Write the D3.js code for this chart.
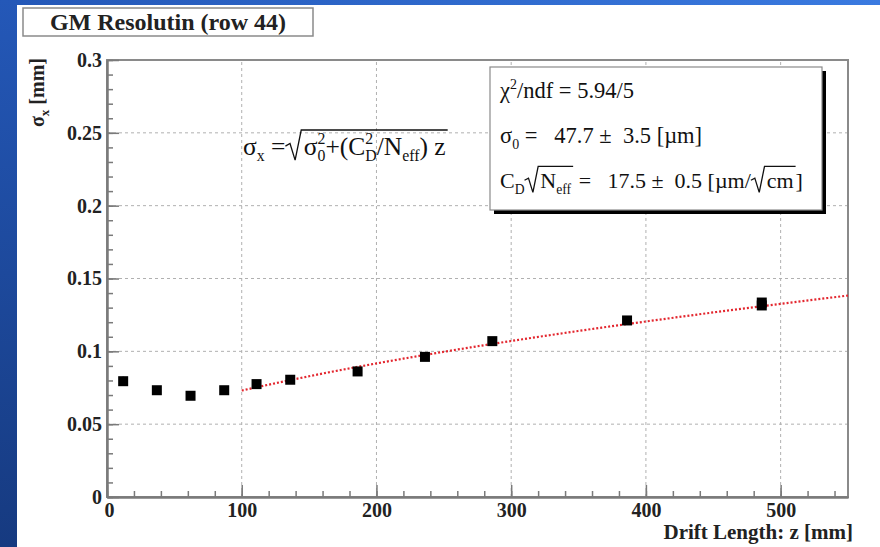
<html>
<head>
  <script src="https://d3js.org/d3.v7.min.js"></script>
  <style>
    body { margin: 0; }
    text { font-family: "Liberation Serif", "DejaVu Serif", serif; }
  </style>
</head>
<body>
  <svg id="chart" width="880" height="547"></svg>
  <script>
    // data
    const zPoints = [12, 37, 62, 87, 111, 136, 186, 236, 286, 386, 486, 486];
    const sigmaPoints = [0.0795, 0.0733, 0.0695, 0.0733, 0.0775, 0.0805, 0.0862, 0.0962, 0.1070, 0.1212, 0.1335, 0.1315];
    const sigmaErrors = [0.003, 0.0015, 0.0015, 0.0015, 0.0015, 0.0015, 0.0015, 0.0015, 0.0015, 0.0015, 0.002, 0.002];

    // fitted curve, read every 50 mm
    const fitZ = [100, 150, 200, 250, 300, 350, 400, 450, 500, 550];
    const fitSigma = [0.0731, 0.0829, 0.0917, 0.0997, 0.1071, 0.1140, 0.1205, 0.1267, 0.1326, 0.1383];

    const xTicks = [0, 100, 200, 300, 400, 500];
    const xTickLabels = ["0", "100", "200", "300", "400", "500"];
    const yTicks = [0, 0.05, 0.1, 0.15, 0.2, 0.25, 0.3];
    const yTickLabels = ["0", "0.05", "0.1", "0.15", "0.2", "0.25", "0.3"];

    const svg = d3.select("#chart");
    const W = 880, H = 547;

    // blue slide background
    const defs = svg.append("defs");
    const gl = defs.append("linearGradient").attr("id", "leftBand")
      .attr("x1", 0).attr("y1", 0).attr("x2", 0).attr("y2", 1);
    gl.append("stop").attr("offset", "0%").attr("stop-color", "#2458b8");
    gl.append("stop").attr("offset", "100%").attr("stop-color", "#163a80");
    const gt = defs.append("linearGradient").attr("id", "topBand")
      .attr("x1", 0).attr("y1", 0).attr("x2", 1).attr("y2", 0);
    gt.append("stop").attr("offset", "0%").attr("stop-color", "#2458b8");
    gt.append("stop").attr("offset", "100%").attr("stop-color", "#3a7ae0");

    svg.append("rect").attr("width", W).attr("height", H).attr("fill", "url(#leftBand)");
    svg.append("rect").attr("x", 17).attr("width", W - 17).attr("height", 5).attr("fill", "url(#topBand)");
    svg.append("rect").attr("x", 17).attr("y", 5).attr("width", W - 17).attr("height", H - 5).attr("fill", "#fff");

    const x = d3.scaleLinear().domain([0, 550]).range([107, 848]);
    const y = d3.scaleLinear().domain([0, 0.3]).range([497, 60]);

    // grid
    const grid = svg.append("g").attr("stroke", "#b0b0b0").attr("stroke-width", 1).attr("stroke-dasharray", "3,3");
    grid.selectAll("line.gx").data(xTicks.slice(1)).join("line")
      .attr("class", "gx")
      .attr("x1", d => x(d)).attr("x2", d => x(d))
      .attr("y1", y(0)).attr("y2", y(0.3));
    grid.selectAll("line.gy").data(yTicks.slice(1, -1)).join("line")
      .attr("class", "gy")
      .attr("x1", x(0)).attr("x2", x(550))
      .attr("y1", d => y(d)).attr("y2", d => y(d));

    // frame
    svg.append("rect")
      .attr("x", x(0)).attr("y", y(0.3))
      .attr("width", x(550) - x(0)).attr("height", y(0) - y(0.3))
      .attr("fill", "none").attr("stroke", "#8a8a8a").attr("stroke-width", 2);

    // axes
    const yAxis = svg.append("g").attr("transform", `translate(${x(0)},0)`)
      .call(d3.axisLeft(y).tickValues(yTicks).tickSize(-12).tickSizeOuter(0).tickPadding(5)
        .tickFormat((d, i) => yTickLabels[i]));
    const yMinor = svg.append("g").attr("transform", `translate(${x(0)},0)`)
      .call(d3.axisLeft(y).tickValues(d3.range(0, 0.3001, 0.01)).tickSize(-6).tickSizeOuter(0).tickFormat(""));
    const xAxis = svg.append("g").attr("transform", `translate(0,${y(0)})`)
      .call(d3.axisBottom(x).tickValues(xTicks).tickSize(-12).tickSizeOuter(0).tickPadding(6)
        .tickFormat((d, i) => xTickLabels[i]));
    const xMinor = svg.append("g").attr("transform", `translate(0,${y(0)})`)
      .call(d3.axisBottom(x).tickValues(d3.range(0, 551, 20)).tickSize(-6).tickSizeOuter(0).tickFormat(""));

    [yAxis, yMinor, xAxis, xMinor].forEach(a => {
      a.select(".domain").attr("stroke", "#7a7a7a").attr("stroke-width", 2);
      a.selectAll(".tick line").attr("stroke", "#7a7a7a").attr("stroke-width", 1.5);
      a.selectAll(".tick text")
        .attr("fill", "#222").attr("font-size", 20).attr("font-weight", "bold")
        .attr("font-family", "Liberation Serif, serif");
    });
    xAxis.selectAll(".tick text").filter(d => d === 0).attr("dx", 2);

    // axis titles
    const yTitle = svg.append("text")
      .attr("transform", `translate(44,${y(0.3) - 2}) rotate(-90)`)
      .attr("text-anchor", "end").attr("font-size", 20).attr("font-weight", "bold").attr("fill", "#222");
    yTitle.append("tspan").text("σ");
    yTitle.append("tspan").text("x").attr("font-size", 13).attr("dy", 5);
    yTitle.append("tspan").text(" [mm]").attr("dy", -5);

    svg.append("text")
      .attr("x", 853).attr("y", 539)
      .attr("text-anchor", "end").attr("font-size", 21).attr("font-weight", "bold").attr("fill", "#222")
      .text("Drift Length: z [mm]");

    // fit curve
    const line = d3.line().x(d => x(d[0])).y(d => y(d[1])).curve(d3.curveMonotoneX);
    svg.append("path")
      .datum(fitZ.map((z, i) => [z, fitSigma[i]]))
      .attr("d", line)
      .attr("fill", "none").attr("stroke", "#e3262e").attr("stroke-width", 2.2)
      .attr("stroke-dasharray", "2,2");

    // data points
    const pts = zPoints.map((z, i) => ({ z: z, s: sigmaPoints[i], e: sigmaErrors[i] }));
    svg.selectAll("line.err").data(pts).join("line")
      .attr("class", "err")
      .attr("x1", d => x(d.z)).attr("x2", d => x(d.z))
      .attr("y1", d => y(d.s - d.e)).attr("y2", d => y(d.s + d.e))
      .attr("stroke", "#000").attr("stroke-width", 1.5);
    svg.selectAll("rect.pt").data(pts).join("rect")
      .attr("class", "pt")
      .attr("x", d => x(d.z) - 5).attr("y", d => y(d.s) - 5)
      .attr("width", 10).attr("height", 10)
      .attr("fill", "#000");

    // rich text helper: pieces of plain, sup/sub and radicals
    function rich(g, x0, y0, size, pieces) {
      let cx = x0;
      let radStart = [];
      pieces.forEach(p => {
        if (p.t !== undefined) {
          const t = g.append("text").attr("x", cx).attr("y", y0).attr("font-size", size)
            .attr("fill", "#111").attr("xml:space", "preserve").style("white-space", "pre").text(p.t);
          cx += t.node().getComputedTextLength();
        } else if (p.rad === "open") {
          radStart.push(cx);
          cx += size * 0.72;
        } else if (p.rad === "close") {
          const s = radStart.pop();
          const top = y0 - size * 0.98;
          g.append("path")
            .attr("d", `M${s},${y0 - size * 0.35} L${s + size * 0.18},${y0 - size * 0.45} L${s + size * 0.38},${y0 + size * 0.2} L${s + size * 0.62},${top} L${cx + 2},${top}`)
            .attr("fill", "none").attr("stroke", "#111").attr("stroke-width", 1.3);
          cx += 2;
        } else {
          let w = 0;
          const small = size * 0.62;
          if (p.sup !== undefined) {
            const t = g.append("text").attr("x", cx).attr("y", y0 - size * 0.42).attr("font-size", small)
              .attr("fill", "#111").text(p.sup);
            w = Math.max(w, t.node().getComputedTextLength());
          }
          if (p.sub !== undefined) {
            const t = g.append("text").attr("x", cx).attr("y", y0 + size * 0.25).attr("font-size", small)
              .attr("fill", "#111").text(p.sub);
            w = Math.max(w, t.node().getComputedTextLength());
          }
          cx += w;
        }
      });
      return cx;
    }

    // formula
    const fg = svg.append("g");
    rich(fg, 243, 155, 25.5, [
      { t: "σ" }, { sub: "x" }, { t: " =" }, { rad: "open" },
      { t: "σ" }, { sup: "2", sub: "0" }, { t: "+(C" }, { sup: "2", sub: "D" },
      { t: "/N" }, { sub: "eff" }, { t: ") z" }, { rad: "close" }
    ]);

    // title box
    svg.append("rect").attr("x", 23).attr("y", 8).attr("width", 290).attr("height", 28)
      .attr("fill", "#fff").attr("stroke", "#8a8a8a").attr("stroke-width", 1.5);
    svg.append("text").attr("x", 168).attr("y", 30).attr("text-anchor", "middle")
      .attr("font-size", 24).attr("font-weight", "bold").attr("fill", "#222")
      .text("GM Resolutin (row 44)");

    // stats box
    const sb = svg.append("g");
    sb.append("rect").attr("x", 494).attr("y", 71).attr("width", 332).attr("height", 143).attr("fill", "#000");
    sb.append("rect").attr("x", 490).attr("y", 67).attr("width", 332).attr("height", 143)
      .attr("fill", "#fff").attr("stroke", "#8a8a8a").attr("stroke-width", 1.2);
    rich(sb, 500, 98, 22.5, [{ t: "χ" }, { sup: "2" }, { t: "/ndf = 5.94/5" }]);
    rich(sb, 500, 143, 22.5, [{ t: "σ" }, { sub: "0" }, { t: " =   47.7 ±  3.5 [µm]" }]);
    rich(sb, 500, 188, 22, [
      { t: "C" }, { sub: "D" }, { rad: "open" }, { t: "N" }, { sub: "eff" }, { rad: "close" },
      { t: " =   17.5 ±  0.5 [µm/" }, { rad: "open" }, { t: "cm" }, { rad: "close" }, { t: "]" }
    ]);
  </script>
</body>
</html>
